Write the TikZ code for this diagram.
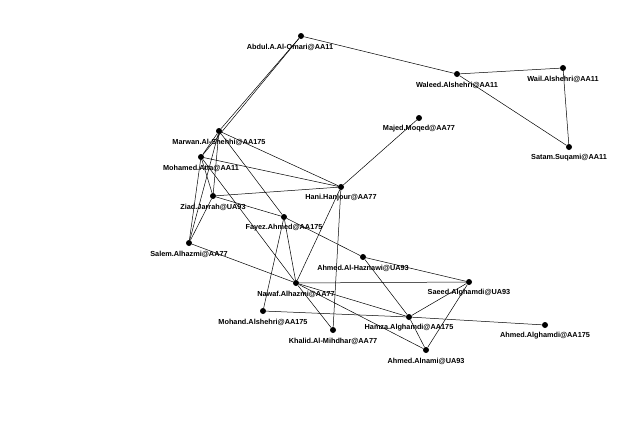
\documentclass[tikz,border=0pt]{standalone}
\usepackage{fontspec}
\setmainfont{Liberation Sans}
\begin{document}
\begin{tikzpicture}[x=1pt,y=-1pt,
 dot/.style={circle,fill=black,inner sep=0pt,minimum size=6pt},
 lab/.style={font=\bfseries\fontsize{7.3}{8}\selectfont,inner sep=0pt},
 e/.style={black,line width=0.5pt}]
\useasboundingbox (0,0) rectangle (640,421);
\foreach \n/\x/\y/\t/\dx in {
 ab/301/36/Abdul.A.Al-Omari@AA11/-11,
 wa/457/74/Waleed.Alshehri@AA11/0,
 wl/563/68/Wail.Alshehri@AA11/0,
 sa/569/147/Satam.Suqami@AA11/0,
 mj/419/118/Majed.Moqed@AA77/0,
 mw/219/131/Marwan.Al-Shehhi@AA175/0,
 at/201/157/Mohamed.Atta@AA11/0,
 hh/341/187/Hani.Hanjour@AA77/0,
 zj/213/196/Ziad.Jarrah@UA93/0,
 fa/284/217/Fayez.Ahmed@AA175/0,
 sl/189/243/Salem.Alhazmi@AA77/0,
 hz/363/257/Ahmed.Al-Haznawi@UA93/0,
 sg/469/282/Saeed.Alghamdi@UA93/0,
 nw/296/283/Nawaf.Alhazmi@AA77/0,
 md/263/311/Mohand.Alshehri@AA175/0,
 hg/409/317/Hamza.Alghamdi@AA175/0,
 ag/545/325/Ahmed.Alghamdi@AA175/0,
 kh/333/330/Khalid.Al-Mihdhar@AA77/0,
 an/426/350/Ahmed.Alnami@UA93/0}
{\node[dot] (\n) at (\x,\y) {};
 \node[lab] (\n l) at (\x+\dx,\y+11) {\t};}
\foreach \a/\b in {ab/wa,ab/mw,ab/at,wa/wl,wa/sa,wl/sa,mj/hh,
 mw/hh,mw/at,mw/zj,mw/sl,mw/fa,at/hh,at/zj,at/sl,at/nw,zj/hh,zj/sl,zj/fa,
 fa/hz,fa/md,fa/nw,sl/nw,hh/nw,hh/kh,nw/sg,nw/hg,nw/kh,md/hg,hg/ag,
 hz/hg,hz/sg,sg/hg,sg/an,hg/an,nw/an}
 \draw[e] (\a) -- (\b);
\end{tikzpicture}
\end{document}
